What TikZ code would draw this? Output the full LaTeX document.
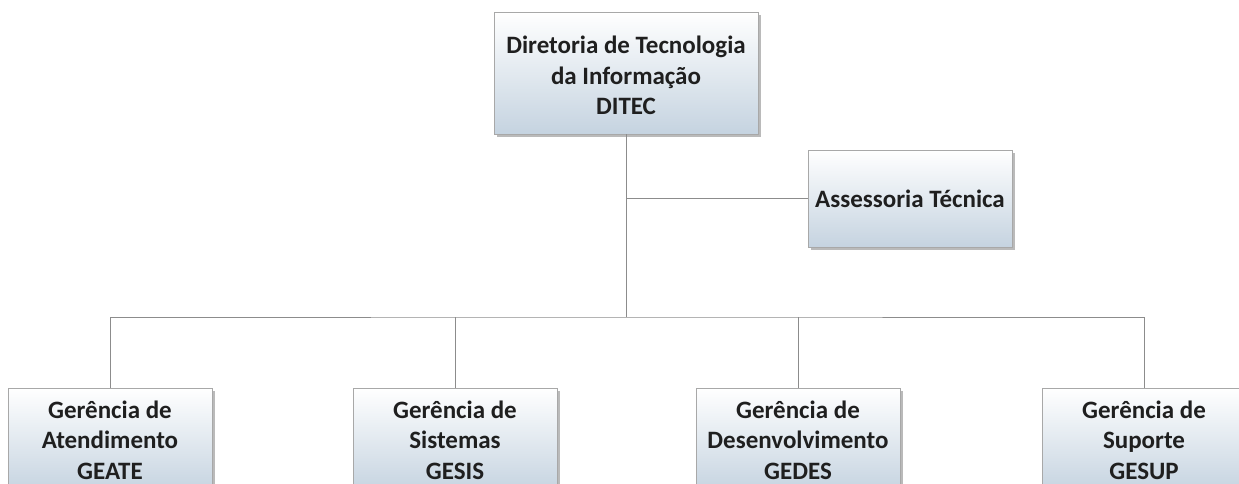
\documentclass[tikz,border=0pt]{standalone}
\usepackage{fontspec}
\setmainfont{Carlito}
\usetikzlibrary{shadows}
\definecolor{boxtop}{HTML}{FFFFFF}
\definecolor{boxbot}{HTML}{C5D3E0}
\definecolor{boxline}{HTML}{A8A8A8}
\definecolor{conn}{HTML}{8C8C8C}
\tikzset{
  orgbox/.style={draw=boxline, line width=0.8pt, top color=boxtop, bottom color=boxbot,
    align=center, font=\fontsize{25}{30.5}\selectfont\bfseries, text=black!88,
    inner sep=0pt,
    drop shadow={shadow xshift=3pt, shadow yshift=-3pt, opacity=0.45, fill=black!60}},
  conline/.style={draw=conn, line width=1pt}
}
\begin{document}
\begin{tikzpicture}[x=1pt,y=-1pt]
\useasboundingbox (0,0) rectangle (1239,484);
\fill[white] (0,0) rectangle (1239,484);
\node[orgbox, minimum width=264pt, minimum height=122pt] (ditec) at (626,73) {\raisebox{-5pt}[\height][\depth]{\begin{tabular}{@{}c@{}}Diretoria de Tecnologia\\da Informação\\DITEC\end{tabular}}};
\node[orgbox, minimum width=204pt, minimum height=97pt] (asse) at (910,198.5) {Assessoria Técnica};
\node[orgbox, minimum width=204pt, minimum height=104pt] (geate) at (110,440) {Gerência de\\Atendimento\\GEATE};
\node[orgbox, minimum width=204pt, minimum height=104pt] (gesis) at (455,440) {Gerência de\\Sistemas\\GESIS};
\node[orgbox, minimum width=204pt, minimum height=104pt] (gedes) at (798,440) {Gerência de\\Desenvolvimento\\GEDES};
\node[orgbox, minimum width=204pt, minimum height=104pt] (gesup) at (1144,440) {Gerência de\\Suporte\\GESUP};
\coordinate (bus) at (626,317);
\coordinate (aj) at (626,198.5);
\draw[conline] (ditec.south) -- (bus);
\draw[conline] (aj) -- (asse.west);
\draw[conline] (geate.north) |- (bus) -| (gesup.north);
\draw[conline] (gesis.north) -- (gesis.north |- bus);
\draw[conline] (gedes.north) -- (gedes.north |- bus);
\end{tikzpicture}
\end{document}
